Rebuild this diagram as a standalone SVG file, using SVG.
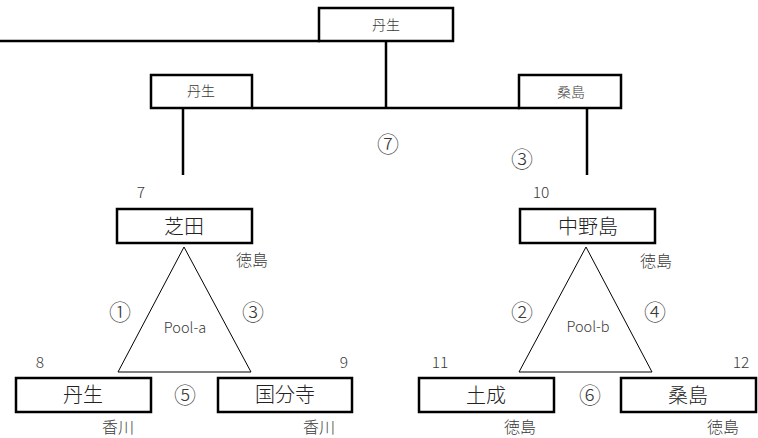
<svg xmlns="http://www.w3.org/2000/svg" width="758" height="438" viewBox="0 0 758 438">
<style>
text{font-family:"Noto Sans CJK JP","Noto Sans",sans-serif;fill:#3a3a3a;text-anchor:middle;dominant-baseline:central;font-weight:300}
.box{fill:#fff;stroke:#000;stroke-width:2.5}
.ln{stroke:#000;stroke-width:2.5;fill:none}
.tri{fill:#fff;stroke:#000;stroke-width:1}
.s{font-size:14px}
.b{font-size:20px;fill:#222}
.l{font-size:16px}
.c{font-size:22px}
.n{font-size:15.5px}
.p{font-size:14.5px}
</style>
<rect width="758" height="438" fill="#fff"/>
<g id="connectors">
<line class="ln" x1="0" y1="41" x2="320" y2="41"/>
<line class="ln" x1="386" y1="41" x2="386" y2="108"/>
<line class="ln" x1="252" y1="108" x2="520" y2="108"/>
<line class="ln" x1="183" y1="108" x2="183" y2="175"/>
<line class="ln" x1="587" y1="108" x2="587" y2="175"/>
</g>
<g id="top">
<rect class="box" x="319" y="8" width="134" height="33"/>
<text class="s" x="386" y="24">丹生</text>
</g>
<g id="mid-left">
<rect class="box" x="151" y="75" width="101" height="33"/>
<text class="s" x="201" y="90">丹生</text>
</g>
<g id="mid-right">
<rect class="box" x="519" y="75" width="102" height="33"/>
<text class="s" x="571" y="91">桑島</text>
</g>
<text class="c" x="388" y="142">⑦</text>
<text class="c" x="522" y="157">③</text>
<g id="pool-a">
<polygon class="tri" points="184,247 118,372 251,372"/>
<text class="p" x="185" y="326">Pool-a</text>
<text class="c" x="120" y="310">①</text>
<text class="c" x="253" y="310">③</text>
<text class="c" x="185" y="393">⑤</text>
</g>
<g id="shibata">
<rect class="box" x="117" y="209" width="135" height="34"/>
<text class="b" x="184" y="225">芝田</text>
<text class="n" x="141" y="191">7</text>
<text class="l" x="252" y="259">徳島</text>
</g>
<g id="nyu">
<rect class="box" x="16" y="378" width="135" height="34"/>
<text class="b" x="83" y="393">丹生</text>
<text class="n" x="40" y="361">8</text>
<text class="l" x="118" y="426">香川</text>
</g>
<g id="kokubunji">
<rect class="box" x="218" y="378" width="134" height="34"/>
<text class="b" x="285" y="393">国分寺</text>
<text class="n" x="344" y="361">9</text>
<text class="l" x="319" y="426">香川</text>
</g>
<g id="pool-b">
<polygon class="tri" points="586,247 519,372 652,372"/>
<text class="p" x="588" y="325">Pool-b</text>
<text class="c" x="522" y="310">②</text>
<text class="c" x="655" y="310">④</text>
<text class="c" x="590" y="393">⑥</text>
</g>
<g id="nakanoshima">
<rect class="box" x="520" y="209" width="135" height="34"/>
<text class="b" x="588" y="225">中野島</text>
<text class="n" x="541" y="191">10</text>
<text class="l" x="656" y="260">徳島</text>
</g>
<g id="donari">
<rect class="box" x="419" y="378" width="135" height="34"/>
<text class="b" x="486" y="394">土成</text>
<text class="n" x="440" y="361">11</text>
<text class="l" x="520" y="426">徳島</text>
</g>
<g id="kuwajima">
<rect class="box" x="621" y="378" width="135" height="34"/>
<text class="b" x="688" y="394">桑島</text>
<text class="n" x="741" y="361">12</text>
<text class="l" x="723" y="426">徳島</text>
</g>
</svg>
